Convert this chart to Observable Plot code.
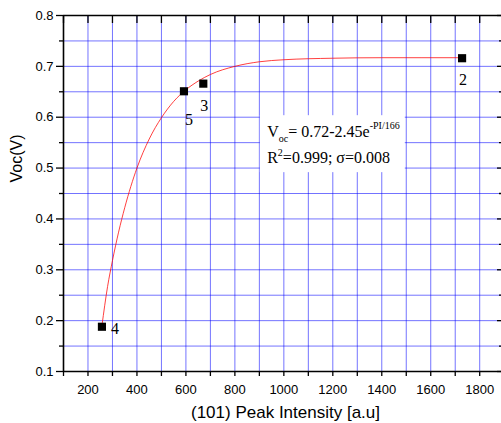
<!DOCTYPE html>
<html>
<head>
<meta charset="utf-8">
<script src="https://cdn.jsdelivr.net/npm/d3@7"></script>
<script src="https://cdn.jsdelivr.net/npm/@observablehq/plot@0.6"></script>
<style>
  html, body { margin: 0; padding: 0; background: #fff; }
  #chart svg { display: block; }
</style>
</head>
<body>
<div id="chart"></div>
<script>
// Data points (sample number, peak intensity, Voc)
const sampleLabels = ["4", "5", "3", "2"];
const peakIntensity = [257, 592, 671, 1728];
const vocValues = [0.188, 0.651, 0.666, 0.716];

// Fitted curve
const fitIntensity = [257, 280, 300, 325, 350, 400, 450, 500, 550, 600, 650, 700, 800, 900, 1000, 1200, 1400, 1728];
const fitVoc = [0.190, 0.267, 0.318, 0.374, 0.422, 0.500, 0.557, 0.599, 0.631, 0.654, 0.671, 0.684, 0.700, 0.709, 0.713, 0.716, 0.717, 0.717];

// Tick values
const xLabelTicks = [200, 400, 600, 800, 1000, 1200, 1400, 1600, 1800];
const xAllTicks = [100, 200, 300, 400, 500, 600, 700, 800, 900, 1000, 1100, 1200, 1300, 1400, 1500, 1600, 1700, 1800];
const yMajorTicks = [0.1, 0.2, 0.3, 0.4, 0.5, 0.6, 0.7, 0.8];
const yMinorTicks = [0.15, 0.25, 0.35, 0.45, 0.55, 0.65, 0.75];
const yGrid = [0.1, 0.15, 0.2, 0.25, 0.3, 0.35, 0.4, 0.45, 0.5, 0.55, 0.6, 0.65, 0.7, 0.75, 0.8];

// Texts
const xTitle = "(101) Peak Intensity [a.u]";
const yTitle = "Voc(V)";
const eqLine1 = "Voc= 0.72-2.45e-PI/166";
const eqLine2 = "R2=0.999; σ=0.008";

const points = sampleLabels.map((s, i) => ({label: s, x: peakIntensity[i], y: vocValues[i]}));
const fit = fitIntensity.map((x, i) => ({x, y: fitVoc[i]}));

const gridColor = "#0000ff";
const serif = "'Liberation Serif', 'DejaVu Serif', serif";

const plot = Plot.plot({
  width: 501,
  height: 423,
  marginLeft: 63,
  marginRight: 0,
  marginTop: 15,
  marginBottom: 52,
  style: {fontFamily: "'Liberation Sans', Arial, sans-serif", fontSize: "13px", background: "white", color: "black"},
  x: {domain: [100, 1889]},
  y: {domain: [0.1, 0.8]},
  marks: [
    Plot.ruleX(xAllTicks, {x: d => d, stroke: gridColor, strokeOpacity: 0.55}),
    Plot.ruleY(yGrid, {y: d => d, stroke: gridColor, strokeOpacity: 0.55}),
    // annotation box
    Plot.rect([{x1: 904, x2: 1496, y1: 0.491, y2: 0.603}], {x1: "x1", x2: "x2", y1: "y1", y2: "y2", fill: "white"}),
    Plot.line(fit, {x: "x", y: "y", stroke: "#ff0000", strokeWidth: 1, strokeOpacity: 0.75, curve: "monotone-x"}),
    Plot.dot(points, {x: "x", y: "y", symbol: "square", r: 4.6, fill: "black", stroke: "none"}),
    // point labels
    Plot.text(points.filter(d => d.label === "4"), {x: "x", y: "y", text: "label", textAnchor: "start", lineAnchor: "bottom", dx: 9, dy: 7, fontFamily: serif, fontSize: 16}),
    Plot.text(points.filter(d => d.label === "5"), {x: "x", y: "y", text: "label", lineAnchor: "bottom", dx: 5, dy: 34, fontFamily: serif, fontSize: 16}),
    Plot.text(points.filter(d => d.label === "3" || d.label === "2"), {x: "x", y: "y", text: "label", lineAnchor: "bottom", dx: 1, dy: 27, fontFamily: serif, fontSize: 16}),
    // equation
    Plot.text([eqLine1], {x: 932, y: 0.5618, text: d => d, textAnchor: "start", lineAnchor: "bottom", fontFamily: serif, fontSize: 16}),
    Plot.text([eqLine2], {x: 932, y: 0.5106, text: d => d, textAnchor: "start", lineAnchor: "bottom", fontFamily: serif, fontSize: 16}),
    // axes
    Plot.axisX(xLabelTicks, {anchor: "bottom", tickSize: 0, tickPadding: 13, tickFormat: d => String(d), label: null, fontSize: 13}),
    Plot.axisX(xAllTicks, {anchor: "bottom", tickSize: 5, text: null, label: null, strokeWidth: 1.3}),
    Plot.axisX(xAllTicks, {anchor: "top", tickSize: -7, text: null, label: null, strokeWidth: 1.3}),
    Plot.axisY(yMajorTicks, {anchor: "left", tickSize: 7, tickPadding: 3, tickFormat: d3.format(".1f"), label: null, fontSize: 13, strokeWidth: 1.3}),
    Plot.axisY(yMinorTicks, {anchor: "left", tickSize: 4, text: null, label: null, strokeWidth: 1.3}),
    Plot.axisY(yMajorTicks, {anchor: "right", tickSize: -5, text: null, label: null, strokeWidth: 1.3}),
    Plot.axisY(yMinorTicks, {anchor: "right", tickSize: -3, text: null, label: null, strokeWidth: 1.3}),
    // axis lines (left, bottom, top)
    Plot.ruleX([100], {x: d => d, stroke: "black", strokeWidth: 1.6}),
    Plot.ruleY([0.1, 0.8], {y: d => d, stroke: "black", strokeWidth: 1.6}),
    // titles
    Plot.text([xTitle], {frameAnchor: "bottom", text: d => d, dy: 41, dx: 3, lineAnchor: "middle", fontSize: 17}),
    Plot.text([yTitle], {frameAnchor: "left", text: d => d, dx: -47, dy: -11, rotate: -90, lineAnchor: "middle", fontSize: 16})
  ]
});

// rich text (subscript / superscript) for the equation
const svgSel = d3.select(plot);
svgSel.selectAll("text").filter(function() { return this.textContent === eqLine1; })
  .html('V<tspan font-size="10" dy="5">oc</tspan><tspan font-size="16" dy="-5">= 0.72-2.45e</tspan><tspan font-size="10" dy="-8">-PI/166</tspan>');
svgSel.selectAll("text").filter(function() { return this.textContent === eqLine2; })
  .html('R<tspan font-size="10" dy="-7">2</tspan><tspan font-size="16" dy="7">=0.999; σ=0.008</tspan>');

document.getElementById("chart").appendChild(plot);
</script>
</body>
</html>
